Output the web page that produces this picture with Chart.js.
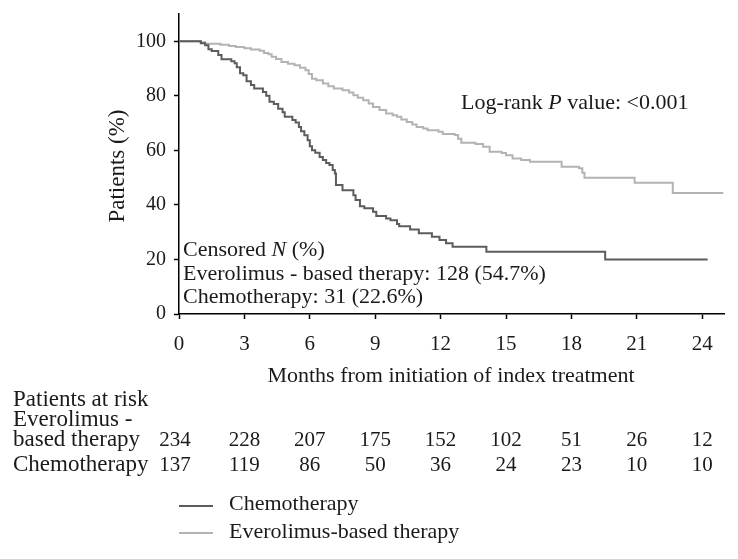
<!DOCTYPE html>
<html>
<head>
<meta charset="utf-8">
<script src="https://cdn.jsdelivr.net/npm/chart.js"></script>
<style>
    body { margin: 0; background: #fff; }
    canvas { display: block; }
</style>
</head>
<body>
<canvas id="curvaKM" width="738" height="559"></canvas>
<script>
// dados (meses, % de pacientes)
const mesesQuimio = [0, 1.0, 1.2, 1.35, 1.5, 1.8, 1.95, 2.4, 2.55, 2.65, 2.8, 2.95, 3.1, 3.3, 3.45, 3.85, 4.0, 4.15, 4.35, 4.55, 4.75, 4.85, 5.2, 5.35, 5.5, 5.6, 5.75, 5.9, 6.0, 6.1, 6.25, 6.45, 6.6, 6.75, 6.9, 7.05, 7.15, 7.2, 7.5, 8.0, 8.1, 8.3, 8.5, 8.9, 9.05, 9.5, 9.7, 10.0, 10.1, 10.6, 11.0, 11.6, 11.95, 12.25, 12.55, 14.1, 19.55, 24.25]
const sobrevidaQuimio = [100, 99.3, 98.5, 97.1, 96.4, 95.0, 93.4, 92.7, 91.9, 90.5, 88.3, 87.5, 85.3, 84.0, 82.7, 81.4, 80.0, 77.8, 77.0, 75.3, 74.0, 72.3, 71.1, 70.2, 68.6, 67.0, 65.5, 63.7, 61.5, 60.0, 59.1, 57.6, 56.5, 55.4, 54.6, 52.8, 51.5, 47.3, 45.4, 43.5, 41.8, 39.5, 38.8, 37.5, 35.9, 35.0, 34.4, 33.0, 32.2, 31.0, 29.6, 28.3, 27.1, 25.9, 24.7, 22.8, 20.0, 20.0]

const mesesEverolimus = [0, 1.0, 1.2, 1.9, 2.3, 2.6, 3.0, 3.3, 3.7, 3.9, 4.1, 4.25, 4.45, 4.7, 5.0, 5.3, 5.55, 5.8, 5.95, 6.1, 6.3, 6.6, 6.85, 7.1, 7.5, 7.8, 8.0, 8.2, 8.45, 8.7, 8.9, 9.2, 9.5, 9.8, 10.0, 10.2, 10.45, 10.7, 10.9, 11.2, 11.4, 11.9, 12.1, 12.65, 12.8, 12.95, 13.6, 13.95, 14.25, 14.8, 15.0, 15.3, 15.7, 16.1, 17.55, 18.35, 18.5, 18.6, 20.9, 22.65, 24.97]
const sobrevidaEverolimus = [100, 99.6, 99.1, 98.7, 98.3, 97.9, 97.4, 97.0, 96.5, 95.7, 95.2, 94.3, 93.5, 92.4, 91.8, 91.2, 90.3, 89.4, 88.0, 86.3, 85.7, 84.5, 83.5, 82.7, 82.0, 81.2, 80.2, 79.3, 78.4, 77.2, 75.9, 74.8, 73.5, 72.9, 72.3, 71.3, 70.4, 69.5, 68.6, 68.0, 67.4, 66.8, 66.0, 65.6, 64.3, 62.8, 62.3, 61.3, 59.5, 59.0, 58.2, 57.0, 56.5, 55.8, 54.0, 53.4, 51.8, 50.0, 48.1, 44.4, 44.4]

// marcas dos eixos e pacientes em risco
const ticksMeses = [0, 3, 6, 9, 12, 15, 18, 21, 24]
const ticksPacientes = [0, 20, 40, 60, 80, 100]
const riscoEverolimus = [234, 228, 207, 175, 152, 102, 51, 26, 12]
const riscoQuimio = [137, 119, 86, 50, 36, 24, 23, 10, 10]

const corQuimio = '#5c5c5c'
const corEverolimus = '#b3b3b3'
const fonte = '"Liberation Serif", "Times New Roman", serif'
const tam = 22
const tamNum = 21

function pontos(xs, ys) {
    return xs.map((x, i) => ({ x: x, y: ys[i] }))
}

// escreve texto com partes em itálico
function textoMisto(ctx, partes, x, y) {
    let px = x
    partes.forEach(p => {
        ctx.font = (p[1] ? 'italic ' : '') + tam + 'px ' + fonte
        ctx.fillText(p[0], px, y)
        px += ctx.measureText(p[0]).width
    })
}

const textos = {
    id: 'textos',
    afterDraw(chart) {
        const ctx = chart.ctx
        const escalaX = chart.scales.x
        ctx.save()
        ctx.fillStyle = '#1a1a1a'
        ctx.textBaseline = 'middle'
        ctx.textAlign = 'left'

        textoMisto(ctx, [['Log-rank ', false], ['P', true], [' value: <0.001', false]], 461, 103)
        textoMisto(ctx, [['Censored ', false], ['N', true], [' (%)', false]], 183, 250)
        textoMisto(ctx, [['Everolimus - based therapy: 128 (54.7%)', false]], 183, 274)
        textoMisto(ctx, [['Chemotherapy: 31 (22.6%)', false]], 183, 297)

        // títulos dos eixos
        ctx.font = tam + 'px ' + fonte
        ctx.textAlign = 'center'
        ctx.fillText('Months from initiation of index treatment', 451, 376)
        ctx.save()
        ctx.translate(118, 166)
        ctx.rotate(-Math.PI / 2)
        ctx.font = (tam + 1) + 'px ' + fonte
        ctx.fillText('Patients (%)', 0, 0)
        ctx.restore()

        // tabela de pacientes em risco
        ctx.textAlign = 'left'
        ctx.font = (tam + 1) + 'px ' + fonte
        ctx.fillText('Patients at risk', 13, 400)
        ctx.fillText('Everolimus -', 13, 420)
        ctx.fillText('based therapy', 13, 440)
        ctx.fillText('Chemotherapy', 13, 465)
        ctx.textAlign = 'center'
        ctx.font = tamNum + 'px ' + fonte
        ticksMeses.forEach((m, i) => {
            const px = escalaX.getPixelForValue(m) - (i === 0 ? 4 : 0)
            ctx.fillText(String(riscoEverolimus[i]), px, 440)
            ctx.fillText(String(riscoQuimio[i]), px, 465)
        })

        // legenda
        ctx.lineWidth = 2
        ctx.strokeStyle = corQuimio
        ctx.beginPath(); ctx.moveTo(179, 506); ctx.lineTo(213, 506); ctx.stroke()
        ctx.strokeStyle = corEverolimus
        ctx.beginPath(); ctx.moveTo(179, 533); ctx.lineTo(213, 533); ctx.stroke()
        ctx.textAlign = 'left'
        ctx.font = tam + 'px ' + fonte
        ctx.fillText('Chemotherapy', 229, 504)
        ctx.fillText('Everolimus-based therapy', 229, 532)
        ctx.restore()
    }
}

new Chart(document.getElementById('curvaKM'), {
    type: 'line',
    data: {
        datasets: [{
            label: 'Chemotherapy',
            data: pontos(mesesQuimio, sobrevidaQuimio),
            borderColor: corQuimio,
            borderWidth: 2,
            stepped: true,
            pointRadius: 0,
            fill: false
        }, {
            label: 'Everolimus-based therapy',
            data: pontos(mesesEverolimus, sobrevidaEverolimus),
            borderColor: corEverolimus,
            borderWidth: 2,
            stepped: true,
            pointRadius: 0,
            fill: false
        }]
    },
    options: {
        responsive: false,
        animation: false,
        layout: { padding: { left: 0, right: 14, top: 14, bottom: 0 } },
        plugins: {
            legend: { display: false },
            tooltip: { enabled: false }
        },
        scales: {
            x: {
                type: 'linear',
                min: 0,
                max: 25,
                afterFit: (s) => { s.height = 245; s.paddingLeft = 0; s.paddingRight = 0 },
                afterBuildTicks: (s) => { s.ticks = ticksMeses.map(v => ({ value: v })) },
                ticks: {
                    autoSkip: false,
                    color: '#1a1a1a',
                    padding: 13,
                    maxRotation: 0,
                    font: { family: fonte, size: tamNum }
                },
                grid: { drawOnChartArea: false, drawTicks: true, tickLength: 5, tickColor: '#000', tickWidth: 1.5 },
                border: { color: '#000', width: 1.5 }
            },
            y: {
                min: 0,
                max: 110,
                afterFit: (s) => { s.width = 179; s.paddingTop = 0; s.paddingBottom = 0 },
                afterBuildTicks: (s) => { s.ticks = ticksPacientes.map(v => ({ value: v })) },
                ticks: {
                    autoSkip: false,
                    color: '#1a1a1a',
                    padding: 8,
                    font: { family: fonte, size: tamNum - 1 }
                },
                grid: { drawOnChartArea: false, drawTicks: true, tickLength: 5, tickColor: '#000', tickWidth: 1.5 },
                border: { color: '#000', width: 1.5 }
            }
        }
    },
    plugins: [textos]
})
</script>
</body>
</html>
